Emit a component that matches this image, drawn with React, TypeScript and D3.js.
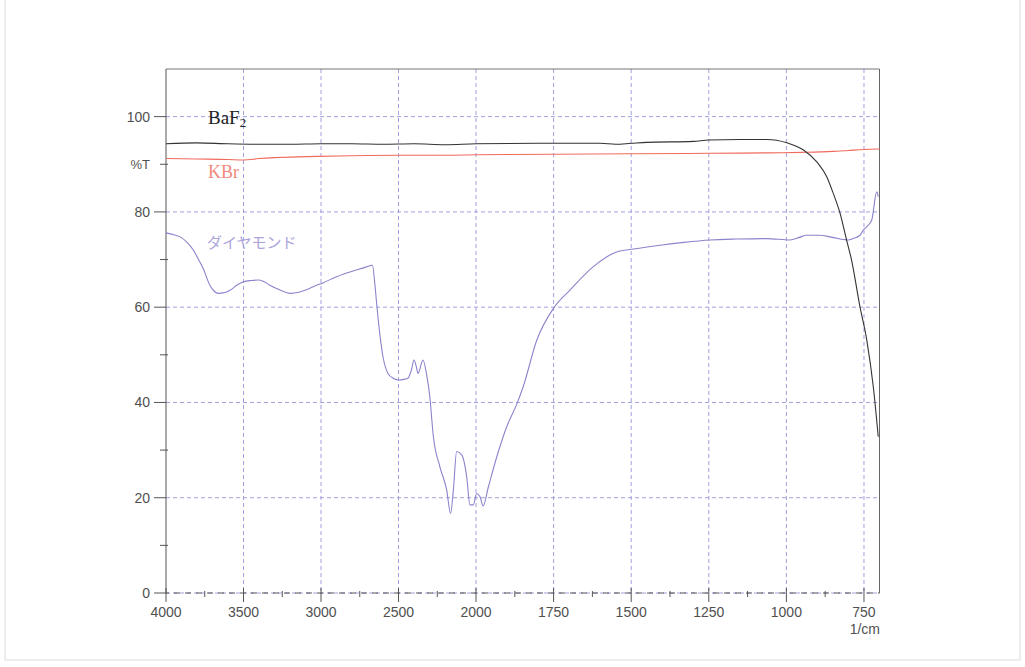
import React, { useEffect, useRef } from 'react';
import * as d3 from 'd3';

// spectra: [wavenumber (1/cm), %T]
const baf2: [number, number][] = [
  [4000, 94.3], [3800, 94.5], [3600, 94.3], [3400, 94.2], [3200, 94.2], [3000, 94.3],
  [2800, 94.3], [2600, 94.2], [2400, 94.3], [2200, 94.1], [2000, 94.3], [1800, 94.4],
  [1600, 94.4], [1550, 94.2], [1500, 94.4], [1450, 94.6], [1300, 94.8], [1250, 95.1],
  [1150, 95.2], [1063, 95.2], [998, 94.5], [945, 93], [902, 90.5], [870, 87.4],
  [849, 83.9], [827, 79.7], [806, 74.1], [790, 69.9], [763, 60.1], [741, 53.1],
  [720, 43.3], [704, 32.8],
];

const kbr: [number, number][] = [
  [4000, 91.2], [3800, 91.1], [3600, 91.0], [3500, 90.9], [3400, 91.2], [3300, 91.4],
  [3100, 91.6], [2800, 91.8], [2500, 91.9], [2200, 91.9], [2000, 92.0], [1750, 92.1],
  [1500, 92.2], [1250, 92.3], [1063, 92.4], [950, 92.5], [850, 92.7], [800, 92.9],
  [750, 93.1], [700, 93.2],
];

const diamond: [number, number][] = [
  [4000, 75.6], [3950, 75.2], [3900, 74.6], [3867, 73.7], [3824, 72], [3790, 70],
  [3760, 68.1], [3717, 64.6], [3690, 63.4], [3663, 62.9], [3630, 63.0], [3609, 63.2],
  [3575, 63.8], [3545, 64.6], [3502, 65.3], [3450, 65.6], [3405, 65.7], [3370, 65.4],
  [3330, 64.6], [3265, 63.6], [3201, 62.9], [3137, 63.2], [3090, 63.7], [3051, 64.3],
  [2987, 65.1], [2900, 66.4], [2793, 67.6], [2720, 68.3], [2686, 68.7], [2668, 68.8],
  [2653, 65], [2639, 60.1], [2621, 54.5], [2600, 49.6], [2568, 46.1], [2535, 45.1],
  [2492, 44.7], [2460, 44.9], [2439, 45.1], [2417, 46.8], [2400, 48.9], [2385, 47.5],
  [2374, 46.1], [2342, 48.9], [2320, 46.1], [2299, 41.5], [2275, 32.8], [2233, 26.5],
  [2189, 21.6], [2164, 16.7], [2146, 21.6], [2125, 29.7], [2092, 29], [2060, 24.4],
  [2039, 18.5], [2017, 18.5], [1998, 20.9], [1987, 20.2], [1977, 18.3], [1960, 22.3],
  [1933, 28.6], [1901, 34.9], [1869, 39.6], [1848, 43.3], [1804, 53.1], [1751, 59.7],
  [1697, 63.6], [1622, 68.5], [1547, 71.6], [1493, 72.2], [1407, 73], [1330, 73.6],
  [1246, 74.1], [1160, 74.3], [1063, 74.4], [988, 74.1], [960, 74.6], [935, 75.1],
  [892, 75.1], [849, 74.6], [801, 74.1], [785, 74.4], [763, 75.1], [752, 76.2],
  [741, 76.9], [725, 78.3], [709, 84.2], [704, 83.2],
];

const xMajor = [4000, 3500, 3000, 2500, 2000, 1750, 1500, 1250, 1000, 750];
const xMinor = [3750, 3250, 2750, 2250, 1875, 1625, 1375, 1125, 875];
const yMajor = [0, 20, 40, 60, 80, 100];
const yMinor = [10, 30, 50, 70];

export default function App() {
  const ref = useRef<SVGSVGElement>(null);

  useEffect(() => {
    const svg = d3.select(ref.current);
    svg.selectAll('*').remove();

    // split scale as on the instrument: 4000-2000 compressed, 2000-700 expanded
    const x = d3.scaleLinear().domain([4000, 2000, 700]).range([166, 476, 879.5]);
    const y = d3.scaleLinear().domain([0, 110]).range([593, 69]);
    const sans = 'Liberation Sans, Arial, sans-serif';
    const grid = '#a3a0e0';

    // faint page frame
    svg.append('rect').attr('x', 5).attr('y', -1).attr('width', 1015).attr('height', 661)
      .attr('fill', 'none').attr('stroke', '#dcdcdc');

    const g = svg.append('g');

    // grid
    g.selectAll('.hg').data([20, 40, 60, 80, 100]).enter().append('line')
      .attr('x1', x(4000)).attr('x2', x(700)).attr('y1', d => y(d)).attr('y2', d => y(d))
      .attr('stroke', grid).attr('stroke-dasharray', '4,3');
    g.selectAll('.vg').data(xMajor.slice(1)).enter().append('line')
      .attr('x1', d => x(d)).attr('x2', d => x(d)).attr('y1', y(110)).attr('y2', y(0))
      .attr('stroke', grid).attr('stroke-dasharray', '4,3');

    // frame
    g.append('line').attr('x1', x(4000)).attr('x2', x(700)).attr('y1', y(110)).attr('y2', y(110))
      .attr('stroke', '#777');
    g.append('line').attr('x1', x(700)).attr('x2', x(700)).attr('y1', y(110)).attr('y2', y(0))
      .attr('stroke', '#666');
    g.append('line').attr('x1', x(4000)).attr('x2', x(4000)).attr('y1', y(110)).attr('y2', y(0))
      .attr('stroke', '#555');
    g.append('line').attr('x1', x(4000)).attr('x2', x(700)).attr('y1', y(0)).attr('y2', y(0))
      .attr('stroke', grid).attr('stroke-dasharray', '4,3');
    g.append('line').attr('x1', x(4000)).attr('x2', x(700)).attr('y1', y(0)).attr('y2', y(0))
      .attr('stroke', '#555').attr('stroke-dasharray', '6,5').attr('stroke-dashoffset', 3);

    // y ticks
    g.selectAll('.yt').data(yMajor).enter().append('line')
      .attr('x1', 154).attr('x2', x(4000)).attr('y1', d => y(d)).attr('y2', d => y(d))
      .attr('stroke', '#555');
    g.selectAll('.ym').data([...yMinor, 90]).enter().append('line')
      .attr('x1', 160).attr('x2', x(4000) + 2).attr('y1', d => y(d)).attr('y2', d => y(d))
      .attr('stroke', '#555');
    g.selectAll('.yl').data(yMajor).enter().append('text')
      .attr('x', 150).attr('y', d => y(d) + 5).attr('text-anchor', 'end')
      .attr('font-family', sans).attr('font-size', 14).attr('fill', '#505050')
      .text(d => d);
    g.append('text').attr('x', 150).attr('y', y(90) + 5).attr('text-anchor', 'end')
      .attr('font-family', sans).attr('font-size', 13).attr('fill', '#505050').text('%T');

    // x ticks
    g.selectAll('.xt').data(xMajor).enter().append('line')
      .attr('x1', d => x(d)).attr('x2', d => x(d)).attr('y1', y(0) - 5).attr('y2', y(0) + 9)
      .attr('stroke', '#555');
    g.selectAll('.xm').data(xMinor).enter().append('line')
      .attr('x1', d => x(d)).attr('x2', d => x(d)).attr('y1', y(0) - 2).attr('y2', y(0) + 4)
      .attr('stroke', '#555');
    g.selectAll('.xl').data(xMajor).enter().append('text')
      .attr('x', d => x(d)).attr('y', 617).attr('text-anchor', 'middle')
      .attr('font-family', sans).attr('font-size', 14).attr('fill', '#505050')
      .text(d => d);
    g.append('text').attr('x', 880).attr('y', 634).attr('text-anchor', 'end')
      .attr('font-family', sans).attr('font-size', 14).attr('fill', '#505050').text('1/cm');

    // spectra
    const line = d3.line<[number, number]>()
      .x(d => x(d[0])).y(d => y(d[1])).curve(d3.curveMonotoneX);
    const series: [[number, number][], string][] = [
      [kbr, '#f06a5c'], [diamond, '#8a84cc'], [baf2, '#333333'],
    ];
    series.forEach(([data, color]) => {
      g.append('path').datum(data).attr('d', line).attr('fill', 'none')
        .attr('stroke', color).attr('stroke-width', 1.1).attr('stroke-linejoin', 'round');
    });

    // labels
    const serif = 'Liberation Serif, Times New Roman, serif';
    const baLabel = g.append('text').attr('x', 208).attr('y', 124)
      .attr('font-family', serif).attr('font-size', 19).attr('fill', '#222');
    baLabel.append('tspan').text('BaF');
    baLabel.append('tspan').attr('font-size', 13).attr('dy', 3).text('2');
    g.append('text').attr('x', 208).attr('y', 178).attr('font-family', serif)
      .attr('font-size', 18).attr('fill', '#f08a7c').text('KBr');
    g.append('text').attr('x', 207).attr('y', 248).attr('font-family', 'Noto Sans CJK JP, sans-serif')
      .attr('font-size', 15).attr('fill', '#aaa4da').text('ダイヤモンド');
  }, []);

  return (
    <div style={{ position: 'absolute', left: 0, top: 0 }}>
      <svg ref={ref} width={1025} height={667} style={{ display: 'block', background: '#fff' }} />
    </div>
  );
}
